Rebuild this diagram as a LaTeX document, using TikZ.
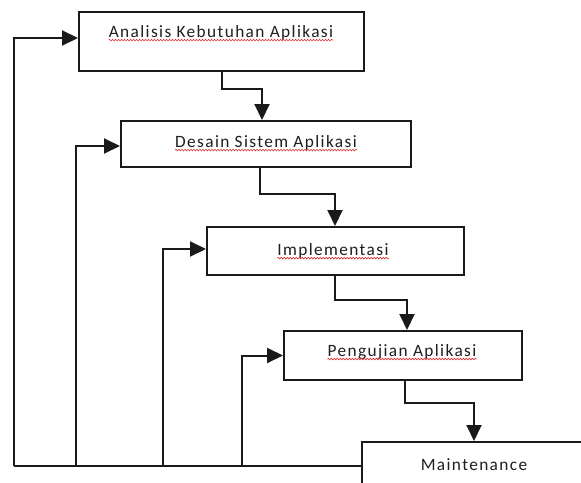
\documentclass[tikz,border=0pt]{standalone}
\usepackage{fontspec}
\setmainfont{Carlito}[LetterSpace=8.0]
\usetikzlibrary{arrows.meta,decorations.pathmorphing}
\definecolor{ln}{HTML}{1A1A1A}
\definecolor{tx}{HTML}{1F1F1F}
\definecolor{sq}{HTML}{E03030}
\tikzset{
  box/.style={draw=ln,line width=2pt,fill=white,rectangle,inner sep=0pt},
  lbl/.style={inner sep=0pt,text=tx,font=\fontsize{17.3}{20}\selectfont},
  wire/.style={draw=ln,line width=2pt},
  arr/.style={wire,-{Triangle[length=16pt,width=15pt]}},
  squig/.style={draw=sq,line width=0.6pt,decorate,decoration={snake,amplitude=0.8pt,segment length=3pt}}
}
\begin{document}
\begin{tikzpicture}[x=1pt,y=-1pt]
\useasboundingbox (0,0) rectangle (581,482);
\clip (0,0) rectangle (581,482);
\fill[white] (0,0) rectangle (581,482);
% boxes
\node[box,minimum width=285pt,minimum height=59pt] (b1) at (221.5,41.5) {};
\node[box,minimum width=290pt,minimum height=46pt] (b2) at (266,144) {};
\node[box,minimum width=257pt,minimum height=48pt] (b3) at (335.5,251) {};
\node[box,minimum width=238pt,minimum height=49pt] (b4) at (403,355.5) {};
\node[box,minimum width=226pt,minimum height=48pt] (b5) at (475,466) {};
% labels
\node[lbl] (t1) at (221,33) {Analisis Kebutuhan Aplikasi};
\node[lbl] (t2) at (266,143) {Desain Sistem Aplikasi};
\node[lbl] (t3) at (333,251) {Implementasi};
\node[lbl] (t4) at (402,352) {Pengujian Aplikasi};
\node[lbl] (t5) at (474,465) {Maintenance};
\foreach \t in {t1,t2,t3,t4}{
  \draw[squig] ([yshift=-2.5pt]\t.base west) -- ([yshift=-2.5pt]\t.base east);
}
% forward flow
\draw[arr] ([xshift=0.5pt]b1.south) -- ++(0,17) -| ([xshift=-4pt]b2.north);
\draw[arr] ([xshift=-6pt]b2.south) -- ++(0,26) -| ([xshift=-0.5pt]b3.north);
\draw[arr] ([xshift=-0.5pt]b3.south) -- ++(0,24) -| ([xshift=4pt]b4.north);
\draw[arr] ([xshift=2pt]b4.south) -- ++(0,22) -| ([xshift=-1pt]b5.north);
% feedback
\coordinate (c1) at (14,466);
\coordinate (c2) at (76,466);
\coordinate (c3) at (163,466);
\coordinate (c4) at (242,466);
\draw[wire] (b5.west) -- (c1);
\draw[arr] (c1) |- ([yshift=3.5pt]b1.west);
\draw[arr] (c2) |- ([yshift=-2pt]b2.west);
\draw[arr] (c3) |- ([yshift=2pt]b3.west);
\draw[arr] (c4) |- (b4.west);
\end{tikzpicture}
\end{document}
